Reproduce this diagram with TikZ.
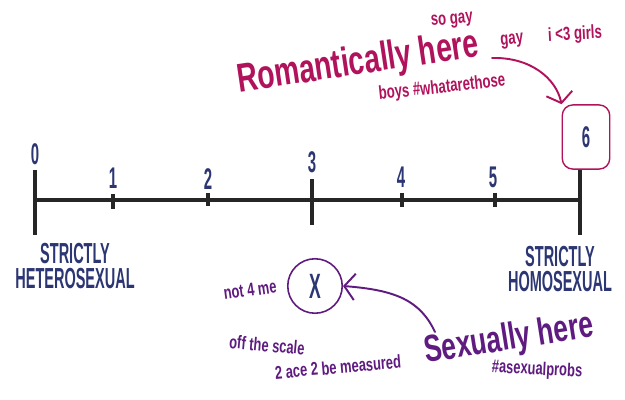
\documentclass[tikz,border=0pt]{standalone}
\usepackage{fontspec}
\usetikzlibrary{arrows.meta}
\newfontfamily\capsfont[FakeStretch=0.5]{Liberation Sans}
\newfontfamily\notefont[FakeStretch=0.7]{Liberation Sans}
\definecolor{scaleblue}{HTML}{2C3672}
\definecolor{romanpink}{HTML}{B0125B}
\definecolor{sexpurple}{HTML}{5F1B80}
\tikzset{
  num/.style={text=scaleblue,font=\capsfont\bfseries\fontsize{34}{34}\selectfont},
  endlabel/.style={text=scaleblue,align=center,
    font=\capsfont\bfseries\fontsize{33}{33}\selectfont},
  pinknote/.style={text=romanpink,font=\notefont\bfseries\fontsize{21.5}{22}\selectfont},
  purplenote/.style={text=sexpurple,font=\notefont\bfseries\fontsize{21}{22}\selectfont}
}
\begin{document}
\begin{tikzpicture}[x=0.04cm,y=-0.04cm]
  \useasboundingbox (0,0) rectangle (625,400);
  % the scale
  \draw[line width=4.5pt,black!85] (35,200) -- (580,200);
  \draw[line width=5pt,black!85] (35,170) -- (35,235);
  \draw[line width=5pt,black!85] (312,179) -- (312,225);
  \draw[line width=5pt,black!85] (580,170) -- (580,235);
  \draw[line width=5.5pt,black!85] (113,194) -- (113,209);
  \draw[line width=5.5pt,black!85] (208,193) -- (208,206);
  \draw[line width=5.5pt,black!85] (402,193) -- (402,207);
  \draw[line width=5.5pt,black!85] (495,193) -- (495,207);
  \node[num] (n0) at (35,154) {0};
  \node[num] (n1) at (113,178) {1};
  \node[num] (n2) at (208,179) {2};
  \node[num] (n3) at (312,162) {3};
  \node[num] (n4) at (401,177) {4};
  \node[num] (n5) at (493,177) {5};
  \node[num,draw=romanpink,line width=1.6pt,rounded corners=12pt,
        minimum width=54pt,minimum height=73pt] (six) at (586,137) {6};
  \node[endlabel] (hetero) at (75,266) {STRICTLY\\[-5pt]HETEROSEXUAL};
  \node[endlabel] (homo) at (560,269) {STRICTLY\\[-5pt]HOMOSEXUAL};
  % romantically
  \node[text=romanpink,rotate=8.5,font=\notefont\bfseries\fontsize{46}{46}\selectfont]
    (romantic) at (358,64) {Romantically here};
  \node[pinknote,rotate=5] (sogay) at (452,21) {so gay};
  \node[pinknote,rotate=5] (gay) at (512,41) {gay};
  \node[pinknote,rotate=3] (girls) at (575,35) {i <3 girls};
  \node[pinknote,rotate=6] (boys) at (442,88) {boys \#whatarethose};
  \coordinate (rtail) at (492,58);
  \draw[romanpink,line width=2.2pt,line cap=round,
        -{Straight Barb[length=11pt,width=30pt,line width=2.2pt]}]
    (rtail) .. controls (530,57) and (556,78) .. (six.north west);
  % sexually
  \node[text=scaleblue,draw=sexpurple,circle,line width=1.8pt,minimum size=62pt,
        font=\capsfont\bfseries\fontsize{40}{40}\selectfont] (xmark) at (315,286) {X};
  \node[text=sexpurple,rotate=9,font=\notefont\bfseries\fontsize{43}{43}\selectfont]
    (sexually) at (509,340) {Sexually here};
  \node[purplenote,rotate=8] (not4me) at (250,290) {not 4 me};
  \node[purplenote,rotate=-5] (offscale) at (267,345) {off the scale};
  \node[purplenote,rotate=5] (ace) at (338,367) {2 ace 2 be measured};
  \node[purplenote,rotate=-3] (probs) at (537,370) {\#asexualprobs};
  \coordinate (stail) at (435,332);
  \draw[sexpurple,line width=2.2pt,line cap=round,
        -{Straight Barb[length=12pt,width=30pt,line width=2.2pt]}]
    (stail) .. controls (420,300) and (395,290) .. (xmark.east);
\end{tikzpicture}
\end{document}
